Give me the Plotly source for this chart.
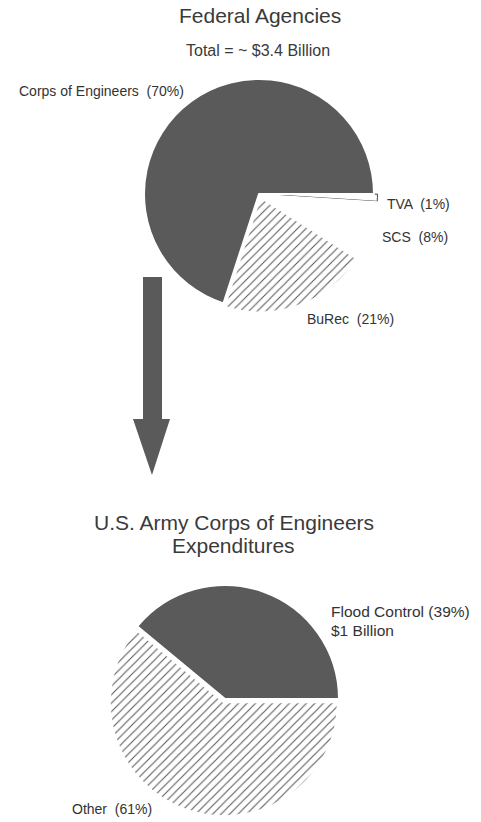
import plotly.graph_objects as go

# Federal agency share of the ~$3.4 billion
agencies = ["Corps of Engineers", "BuRec", "SCS", "TVA"]
agency_share = [70, 21, 8, 1]

# Corps of Engineers expenditures
corps_uses = ["Flood Control", "Other"]
corps_share = [39, 61]

W, H = 481, 822
DARK = "#5a5a5a"
TEXT = "#333333"
FONT = "Liberation Sans, Arial, sans-serif"


def px(x, y):
    # pixel position -> paper coords
    return x / W, 1 - y / H


def pie_domain(cx, cy, r, pull):
    r = r * (1 + pull)
    x0, y0 = px(cx - r, cy + r)
    x1, y1 = px(cx + r, cy - r)
    return {"x": [x0, x1], "y": [y0, y1]}


fig = go.Figure()

# slices listed clockwise from 3 o'clock, so reversed
fig.add_trace(go.Pie(
    labels=agencies[::-1], values=agency_share[::-1], sort=False,
    direction="clockwise", rotation=90,
    domain=pie_domain(259, 194, 115, 0.03),
    pull=[0.03, 0.03, 0.03, 0],
    textinfo="none", hoverinfo="label+percent", showlegend=False,
    marker=dict(
        colors=["white", "white", DARK, DARK],
        line=dict(color=["#444444", "white", "white", "white"], width=[1, 2, 2, 2]),
        pattern=dict(shape=["", "", "/", ""], size=6, solidity=0.18, fillmode="replace"),
    ),
))

fig.add_trace(go.Pie(
    labels=corps_uses[::-1], values=corps_share[::-1], sort=False,
    direction="clockwise", rotation=90,
    domain=pie_domain(225, 699, 114, 0.03),
    pull=[0.03, 0],
    textinfo="none", hoverinfo="label+percent", showlegend=False,
    marker=dict(
        colors=[DARK, DARK],
        line=dict(color="white", width=2),
        pattern=dict(shape=["/", ""], size=6, solidity=0.18, fillmode="replace"),
    ),
))

# labels for the pies
top_label_pos = [(17, 91), (305, 319), (380, 237), (385, 204)]
annotations = []
for name, share, (x, y) in zip(agencies, agency_share, top_label_pos):
    ax, ay = px(x, y)
    annotations.append(dict(x=ax, y=ay, text=f"{name}  ({share}%)", xanchor="left",
                            font=dict(size=14, color=TEXT)))

flood_lines = [(f"{corps_uses[0]} ({corps_share[0]}%)", 611), ("$1 Billion", 630)]
for text, y in flood_lines:
    ax, ay = px(329, y)
    annotations.append(dict(x=ax, y=ay, text=text, xanchor="left",
                            font=dict(size=15.5, color=TEXT)))
ax, ay = px(70, 809)
annotations.append(dict(x=ax, y=ay, text=f"{corps_uses[1]}  ({corps_share[1]}%)",
                        xanchor="left", font=dict(size=14, color=TEXT)))

# titles
titles = [("Federal Agencies", 260, 16, 21), ("Total = ~ $3.4 Billion", 258, 50, 16),
          ("U.S. Army Corps of Engineers", 234, 522, 21), ("Expenditures", 233, 545, 21)]
for text, x, y, size in titles:
    ax, ay = px(x, y)
    annotations.append(dict(x=ax, y=ay, text=text, xanchor="center",
                            font=dict(size=size, color="#3a3a3a")))

for a in annotations:
    a.update(xref="paper", yref="paper", yanchor="middle", showarrow=False)

# big down arrow between the pies
arrow_pts = [(143, 277), (162, 277), (162, 419), (170, 419), (152, 475), (133, 419), (143, 419)]
path = "M " + " L ".join(f"{px(x, y)[0]:.4f},{px(x, y)[1]:.4f}" for x, y in arrow_pts) + " Z"

fig.update_layout(
    width=W, height=H,
    margin=dict(l=0, r=0, t=0, b=0),
    paper_bgcolor="white", plot_bgcolor="white",
    font=dict(family=FONT, color=TEXT),
    annotations=annotations,
    shapes=[dict(type="path", path=path, xref="paper", yref="paper",
                 fillcolor=DARK, line=dict(width=0))],
)

# drop the default page margin so the figure sits at the window's corner
fig.write_html("out.html", config={"displayModeBar": False},
               post_script="document.body.style.margin='0';")
